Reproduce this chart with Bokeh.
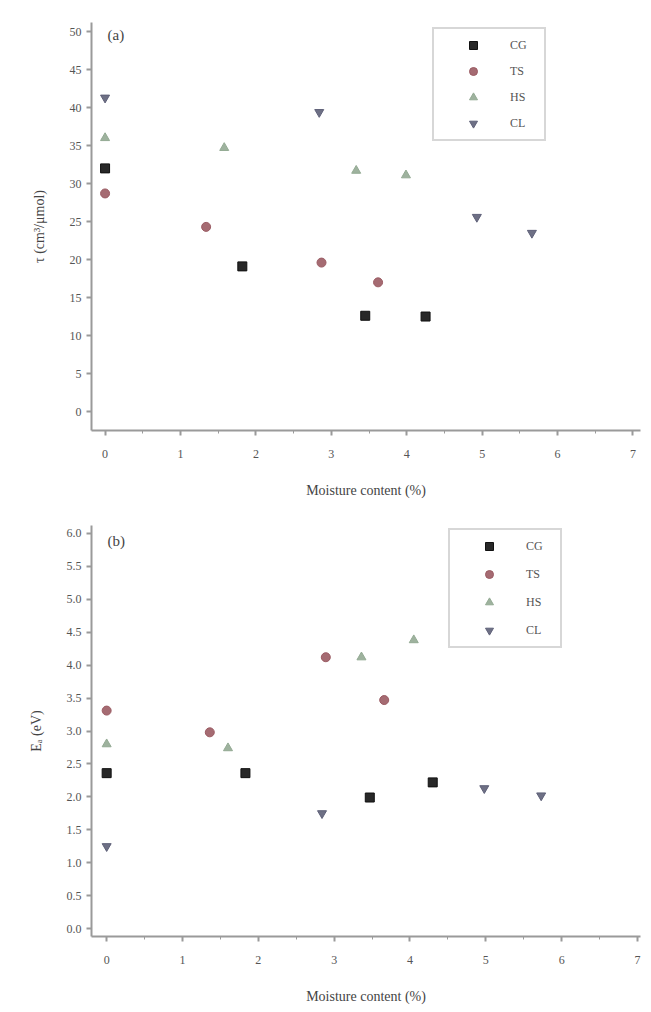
from bokeh.plotting import figure
from bokeh.layouts import column
from bokeh.models import Legend, LegendItem, Range1d, FixedTicker, Label
from bokeh.embed import file_html
from bokeh.resources import INLINE

series = ["CG", "TS", "HS", "CL"]
markers = ["square", "circle", "triangle", "inverted_triangle"]
colors = ["#111111", "#9b5b63", "#93aa93", "#5e6078"]

# Panel (a)
a_x = {
    "CG": [0.0, 1.82, 3.45, 4.25],
    "TS": [0.0, 1.34, 2.87, 3.62],
    "HS": [0.0, 1.58, 3.33, 3.99],
    "CL": [0.0, 2.84, 4.93, 5.66],
}
a_y = {
    "CG": [32.0, 19.1, 12.6, 12.5],
    "TS": [28.7, 24.3, 19.6, 17.0],
    "HS": [36.0, 34.7, 31.7, 31.1],
    "CL": [41.3, 39.4, 25.6, 23.5],
}
# Panel (b)
b_x = {
    "CG": [0.0, 1.83, 3.47, 4.30],
    "TS": [0.0, 1.36, 2.89, 3.66],
    "HS": [0.0, 1.60, 3.36, 4.05],
    "CL": [0.0, 2.84, 4.98, 5.73],
}
b_y = {
    "CG": [2.36, 2.36, 1.99, 2.22],
    "TS": [3.31, 2.98, 4.12, 3.47],
    "HS": [2.80, 2.74, 4.12, 4.38],
    "CL": [1.25, 1.75, 2.13, 2.02],
}

x_ticks = [0, 1, 2, 3, 4, 5, 6, 7]
a_ticks = [0, 5, 10, 15, 20, 25, 30, 35, 40, 45, 50]
b_ticks = [0.0, 0.5, 1.0, 1.5, 2.0, 2.5, 3.0, 3.5, 4.0, 4.5, 5.0, 5.5, 6.0]
b_tick_labels = {t: f"{t:.1f}" for t in b_ticks}

x_title = "Moisture content (%)"
a_title = "τ (cm³/μmol)"
b_title = "Eₐ (eV)"

FONT = "Liberation Serif"
AX = "#9a9a9a"
TXT = "#555555"


def make(xs, ys, xr, yr, yticks, ytitle, panel, w, h, borders, leg_loc, leg_spacing,
         label_y, ylabels=None):
    p = figure(width=w, height=h, output_backend="svg", toolbar_location=None,
               x_range=Range1d(*xr), y_range=Range1d(*yr))
    p.min_border_left, p.min_border_right, p.min_border_top, p.min_border_bottom = borders
    p.outline_line_color = None
    p.grid.visible = False
    p.background_fill_color = "white"
    p.border_fill_color = "white"
    items = []
    for s, m, c in zip(series, markers, colors):
        r = p.scatter(xs[s], ys[s], marker=m, size=9, fill_color=c, line_color=c, fill_alpha=0.9)
        items.append(LegendItem(label=s, renderers=[r]))
    for ax in (p.xaxis[0], p.yaxis[0]):
        ax.axis_line_color = AX
        ax.axis_line_width = 2
        ax.major_tick_line_color = AX
        ax.major_tick_line_width = 2
        ax.minor_tick_line_color = AX
        ax.major_tick_out = 5
        ax.major_tick_in = 0
        ax.minor_tick_out = 3
        ax.minor_tick_in = 0
        ax.major_label_text_font = FONT
        ax.major_label_text_font_size = "12px"
        ax.major_label_text_color = TXT
        ax.axis_label_text_font = FONT
        ax.axis_label_text_font_size = "14px"
        ax.axis_label_text_font_style = "normal"
        ax.axis_label_text_color = "#444444"
    p.xaxis[0].ticker = FixedTicker(ticks=x_ticks, minor_ticks=[t + 0.5 for t in x_ticks])
    p.yaxis[0].ticker = FixedTicker(ticks=yticks)
    if ylabels:
        p.yaxis[0].major_label_overrides = ylabels
    p.xaxis[0].axis_label = x_title
    p.yaxis[0].axis_label = ytitle
    p.xaxis[0].major_label_standoff = 14
    p.xaxis[0].axis_label_standoff = 22
    p.yaxis[0].axis_label_standoff = 20
    leg = Legend(items=items, location=leg_loc, orientation="vertical")
    leg.border_line_color = "#b0b0b0"
    leg.border_line_width = 2
    leg.background_fill_alpha = 0
    leg.padding = 6
    leg.margin = 0
    leg.glyph_width = 66
    leg.glyph_height = 20
    leg.spacing = leg_spacing
    leg.label_standoff = 4
    leg.label_width = 28
    leg.label_text_font = FONT
    leg.label_text_font_size = "12px"
    leg.label_text_color = TXT
    p.add_layout(leg, "center")
    p.add_layout(Label(x=16, y=label_y, x_units="screen", y_units="screen", text=panel,
                       text_font=FONT, text_font_size="15px", text_color="#444444",
                       text_baseline="top"), "center")
    return p


pa = make(a_x, a_y, (-0.18, 7.1), (-2.5, 51.2), a_ticks, a_title, "(a)",
          651, 500, (91, 11, 22, 68), (341, 289), 6, 404)
pb = make(b_x, b_y, (-0.2, 7.04), (-0.12, 6.12), b_ticks, b_title, "(b)",
          651, 512, (90, 6, 25, 76), (357, 288), 8, 404, b_tick_labels)

layout = column(pa, pb, spacing=0)
open("out.html", "w").write(file_html(layout, INLINE))
